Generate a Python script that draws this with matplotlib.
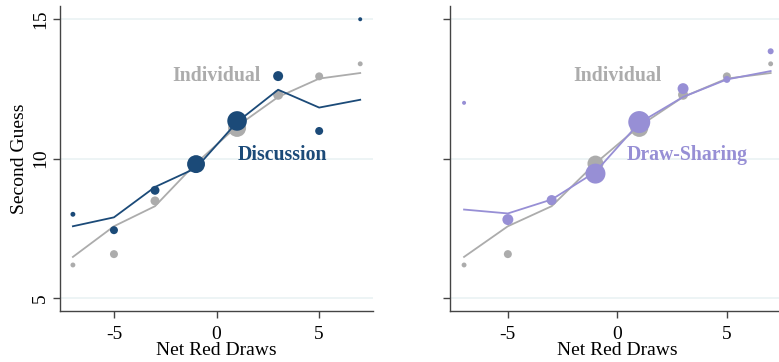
import matplotlib
matplotlib.use("Agg")
import matplotlib.pyplot as plt
import numpy as np

# Net red draws bins
draws = np.array([-7, -5, -3, -1, 1, 3, 5, 7])

# Individual (shown in both panels)
ind_mean = [6.18, 6.57, 8.48, 9.82, 11.1, 12.29, 12.95, 13.4]
ind_fit = [6.47, 7.57, 8.29, 9.83, 11.16, 12.21, 12.87, 13.07]
ind_n = [6, 16, 20, 64, 81, 25, 16, 6]

# Discussion treatment
disc_mean = [8.0, 7.43, 8.86, 9.8, 11.35, 12.96, 10.99, 15.0]
disc_fit = [7.57, 7.89, 8.98, 9.66, 11.31, 12.47, 11.83, 12.11]
disc_n = [6, 16, 20, 80, 96, 25, 16, 4]

# Draw-sharing treatment
share_mean = [12.0, 7.81, 8.51, 9.46, 11.31, 12.51, 12.84, 13.85]
share_fit = [8.17, 8.03, 8.53, 9.52, 11.28, 12.21, 12.84, 13.14]
share_n = [4, 30, 25, 100, 121, 30, 12, 9]

GRAY = "#acacac"
BLUE = "#1b4a78"
PURPLE = "#978fd5"
SCALE = 2.07  # points^2 per count

plt.rcParams["font.family"] = ["Liberation Serif", "DejaVu Serif"]
plt.rcParams["axes.unicode_minus"] = False

fig = plt.figure(figsize=(7.79, 3.62), dpi=100)
ax1 = fig.add_axes([0.077, 0.141, 0.402, 0.842])
ax2 = fig.add_axes([0.578, 0.141, 0.429, 0.842])


def style(ax, show_ylabels):
    ax.set_xlim(-7.63, 7.63)
    ax.set_ylim(4.53, 15.47)
    ax.set_xticks([-5, 0, 5])
    ax.set_yticks([5, 10, 15])
    for y in [5, 10, 15]:
        ax.axhline(y, color="#eaf2f4", lw=1.2, zorder=0)
    for s in ["top", "right"]:
        ax.spines[s].set_visible(False)
    for s in ["left", "bottom"]:
        ax.spines[s].set_color("#444444")
        ax.spines[s].set_linewidth(1.0)
    ax.tick_params(direction="out", length=5, width=1, color="#444444",
                   labelsize=14, pad=3)
    ax.tick_params(axis="x", pad=6)
    if show_ylabels:
        for lbl in ax.get_yticklabels():
            lbl.set_rotation(90)
            lbl.set_va("center")
        ax.set_ylabel("Second Guess", fontsize=14, labelpad=3)
    else:
        ax.set_yticklabels([])
    ax.set_xlabel("Net Red Draws", fontsize=14, labelpad=-1)


def panel(ax, mean, fit, n, color, label):
    ax.plot(draws, ind_fit, color=GRAY, lw=1.3, zorder=2)
    ax.scatter(draws, ind_mean, s=np.array(ind_n) * SCALE, color=GRAY,
               lw=0, zorder=3)
    ax.plot(draws, fit, color=color, lw=1.3, zorder=4)
    ax.scatter(draws, mean, s=np.array(n) * SCALE, color=color, lw=0, zorder=5)
    ax.text(0, 12.95, "Individual", color=GRAY, fontsize=14.2, weight="bold",
            ha="center", va="center")
    ax.text(3.2, 10.12, label, color=color, fontsize=14.2, weight="bold",
            ha="center", va="center")


panel(ax1, disc_mean, disc_fit, disc_n, BLUE, "Discussion")
panel(ax2, share_mean, share_fit, share_n, PURPLE, "Draw-Sharing")
style(ax1, True)
style(ax2, False)

fig.savefig("out.png", dpi=100)
